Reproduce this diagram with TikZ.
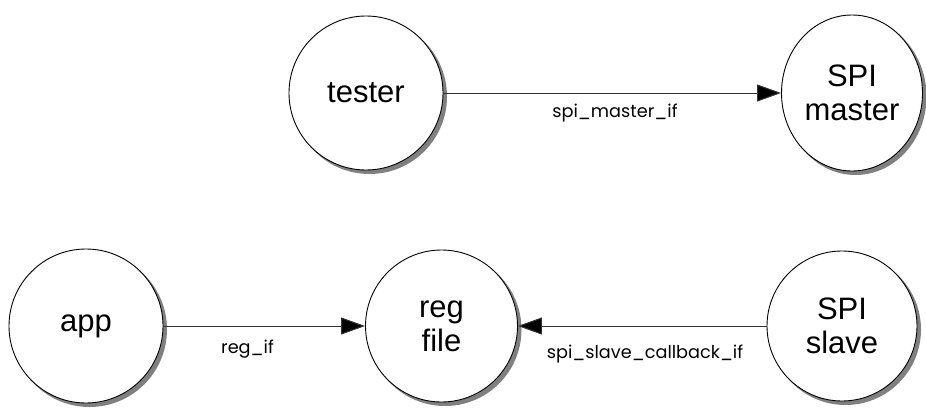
\documentclass[tikz,border=0pt]{standalone}
\usepackage{fontspec}
\setmainfont{Liberation Sans}
\newfontfamily\labelfont{Poppins}
\usetikzlibrary{arrows.meta,shapes.geometric}
\tikzset{
  shadowc/.style={fill=black!50, draw=none},
  proc/.style={circle, draw=black, line width=0.9pt, fill=white, inner sep=0pt,
    minimum size=#1, align=center,
    font=\fontsize{31}{34}\selectfont},
  procell/.style={ellipse, draw=black, line width=0.9pt, fill=white, inner sep=0pt,
    align=center, font=\fontsize{31}{34}\selectfont},
  conn/.style={draw=black!80, line width=1pt, -{Triangle[length=24pt,width=17pt,fill=black]}},
  lab/.style={font=\labelfont\fontsize{17.7}{20}\selectfont, inner sep=0pt}
}
\begin{document}
\begin{tikzpicture}[x=1pt,y=-1pt]
\useasboundingbox (0,0) rectangle (926,407);
% drop shadows
\fill[shadowc] (369.5,96.5) circle (77.5);
\fill[shadowc] (855.5,96.5) ellipse (71 and 78.5);
\fill[shadowc] (89.5,329.5) circle (77.5);
\fill[shadowc] (445,329.5) circle (76.5);
\fill[shadowc] (845.5,329.5) circle (75.5);
% nodes
\node[proc=154pt] (tester) at (366,93) {tester};
\node[procell, minimum width=141pt, minimum height=156pt] (master) at (852,93) {SPI\\master};
\node[proc=154pt] (app) at (86,326) {app};
\node[proc=152pt] (reg) at (441.5,326) {reg\\file};
\node[proc=150pt] (slave) at (842,326) {SPI\\slave};
\draw[conn] (tester) -- (master);
\draw[conn] (app) -- (reg);
\draw[conn] (slave) -- (reg);
\node[lab] (l1) at (615,113) {spi\_master\_if};
\node[lab] (l2) at (247.5,349) {reg\_if};
\node[lab] (l3) at (645,354) {spi\_slave\_callback\_if};
\end{tikzpicture}
\end{document}
